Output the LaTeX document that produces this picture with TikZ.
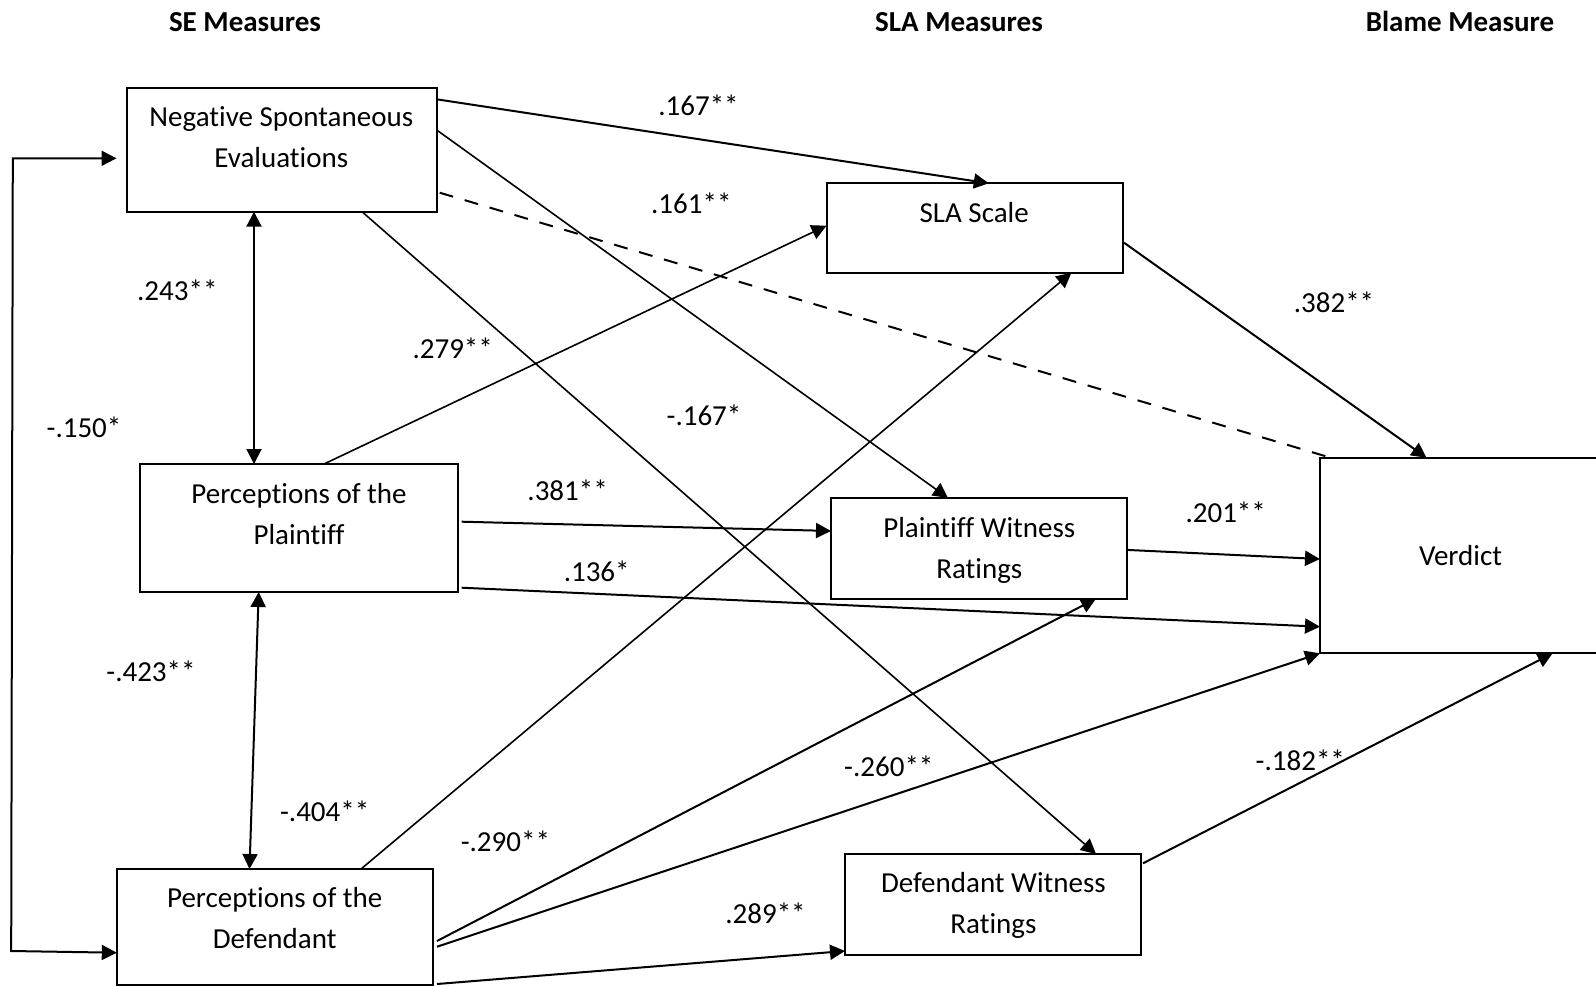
\documentclass[tikz,border=0pt]{standalone}
\usepackage{fontspec}
\setmainfont{Carlito}[Ligatures=NoCommon]
\usetikzlibrary{calc,arrows.meta}

% two centred lines whose first baseline is the node's base
\newcommand\dualline[2]{\begin{tabular}[t]{@{}c@{}}#1\\#2\end{tabular}}

\begin{document}
\begin{tikzpicture}[x=0.5pt,y=-0.5pt,
  font=\fontsize{14.5pt}{20.5pt}\selectfont,
  box/.style={draw, line width=1pt, rectangle, inner sep=0pt, outer sep=0pt},
  txt/.style={inner sep=0pt, anchor=base},
  coef/.style={inner sep=0pt, anchor=base},
  head/.style={inner sep=0pt, anchor=base, font=\fontsize{14.5pt}{20.5pt}\selectfont\bfseries},
  tip/.tip={Triangle[length=7.5pt,width=7.5pt]},
  arr/.style={line width=1pt, -tip},
  thinarr/.style={line width=0.8pt, -tip},
  biarr/.style={line width=1pt, tip-tip},
  dashline/.style={line width=1pt, dash pattern=on 7pt off 6pt},
]
\useasboundingbox (0,0) rectangle (1596,986);

% column headings
\node[head] (h1) at (245,31) {SE Measures};
\node[head] (h2) at (959,31) {SLA Measures};
\node[head] (h3) at (1460,31) {Blame Measure};

% boxes
\node[box, minimum width=155.1pt, minimum height=62pt]   (nse) at (281.6,149.7) {};
\node[box, minimum width=158.7pt, minimum height=64pt]   (pp)  at (299,528)     {};
\node[box, minimum width=158.2pt, minimum height=58pt]   (pd)  at (275,927)     {};
\node[box, minimum width=148.25pt, minimum height=44.7pt] (sla) at (974.75,228)  {};
\node[box, minimum width=148pt, minimum height=50.35pt]  (pwr) at (979,548.3)   {};
\node[box, minimum width=148pt, minimum height=50.5pt]   (dwr) at (993,904.5)   {};
\node[box, minimum width=140pt, minimum height=97.8pt]   (v)   at (1460,555.5)  {};

% box texts
\node[txt] (tnse) at (281.3,126.7) {\dualline{Negative Spontaneous}{Evaluations}};
\node[txt] (tpp)  at (299,503.3)   {\dualline{Perceptions of the}{Plaintiff}};
\node[txt] (tpd)  at (274.7,907.7) {\dualline{Perceptions of the}{Defendant}};
\node[txt] (tsla) at (974.2,222.7) {SLA Scale};
\node[txt] (tpwr) at (979.3,537.3) {\dualline{Plaintiff Witness}{Ratings}};
\node[txt] (tdwr) at (993.4,892.7) {\dualline{Defendant Witness}{Ratings}};
\node[txt] (tv)   at (1460.5,565)  {Verdict};

% paths from the spontaneous evaluations
\draw[arr]     ($(nse.north east)+(0,11.6)$) -- ($(sla.north west)+(162.3,0)$);
\draw[thinarr] ($(nse.north east)+(0,42.3)$) -- ($(pwr.north west)+(117,0)$);
\draw[thinarr] ($(nse.south west)+(235.5,0)$) -- ($(dwr.north west)+(251,0)$);
\draw[dashline] ($(nse.south east)+(3,-19)$) -- ($(v.north west)+(10.6,0)$);

% paths from perceptions of the plaintiff
\draw[thinarr] ($(pp.north west)+(183.7,0)$) -- ($(sla.north west)+(0,42.4)$);
\draw[arr]     ($(pp.north east)+(4,57.7)$) -- ($(pwr.north west)+(0,33)$);
\draw[arr]     ($(pp.south east)+(4,-4.3)$) -- ($(v.north west)+(0,169)$);

% paths from perceptions of the defendant
\draw[thinarr] ($(pd.north west)+(244.2,0)$) -- ($(sla.south west)+(244.9,0)$);
\draw[arr]     ($(pd.north east)+(3.8,72)$) -- ($(pwr.south west)+(265,0)$);
\draw[arr]     ($(pd.north east)+(3.8,77.7)$) -- (v.south west);
\draw[arr]     ($(pd.south east)+(3.8,-1)$) -- ($(dwr.south west)+(0,-4)$);

% SLA measures to verdict
\draw[arr] ($(sla.north east)+(1,59.4)$) -- ($(v.north west)+(106.5,0)$);
\draw[arr] ($(pwr.north east)+(1,52)$) -- ($(v.north west)+(0,101.3)$);
\draw[arr] ($(dwr.north east)+(2,9.3)$) -- ($(v.south west)+(232.6,0)$);

% correlations among the SE measures
\draw[biarr] ($(nse.south west)+(127.5,0)$) -- ($(pp.north west)+(113.7,0)$);
\draw[biarr] ($(pp.south west)+(118.4,0)$) -- ($(pd.north west)+(132.7,0)$);
\coordinate (lt) at (12.8,158.3);
\coordinate (lb) at (11.2,951);
\draw[biarr] ($(nse.west)+(-10,8.6)$) -- (lt) -- (lb) -- ($(pd.west)+(0,25.7)$);

% coefficients
\node[coef] (c1)  at (698.5,115)   {.167**};
\node[coef] (c2)  at (691.3,213)   {.161**};
\node[coef] (c3)  at (177.3,300)   {.243**};
\node[coef] (c4)  at (452.7,358)   {.279**};
\node[coef] (c5)  at (84,437)      {-.150*};
\node[coef] (c6)  at (704,425)     {-.167*};
\node[coef] (c7)  at (567.6,500)   {.381**};
\node[coef] (c8)  at (596.7,581.6) {.136*};
\node[coef] (c9)  at (1334,312)    {.382**};
\node[coef] (c10) at (1225.7,522)  {.201**};
\node[coef] (c11) at (151,681.7)   {-.423**};
\node[coef] (c12) at (324.7,821.7) {-.404**};
\node[coef] (c13) at (505.4,851.7) {-.290**};
\node[coef] (c14) at (765.5,923)   {.289**};
\node[coef] (c15) at (888.8,776)   {-.260**};
\node[coef] (c16) at (1300.3,770)  {-.182**};
\end{tikzpicture}
\end{document}
